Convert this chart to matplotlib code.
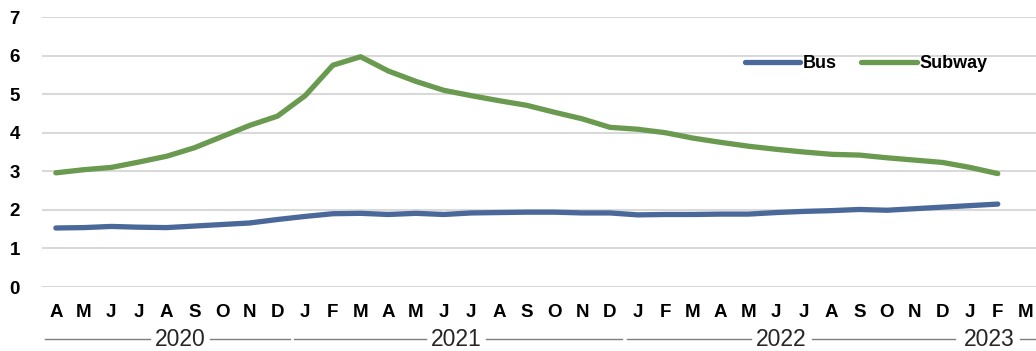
import numpy as np
import matplotlib.pyplot as plt
import matplotlib.transforms as mtransforms

plt.rcParams['font.family'] = ['Liberation Sans', 'DejaVu Sans']

# Monthly ratio, April 2020 - February 2023 (March 2023 slot left empty)
months = ['A', 'M', 'J', 'J', 'A', 'S', 'O', 'N', 'D',
          'J', 'F', 'M', 'A', 'M', 'J', 'J', 'A', 'S', 'O', 'N', 'D',
          'J', 'F', 'M', 'A', 'M', 'J', 'J', 'A', 'S', 'O', 'N', 'D',
          'J', 'F', 'M']
years = ['2020', '2021', '2022', '2023']
months_per_year = [9, 12, 12, 3]
year_label_pos = [4.48, 14.44, 26.2, 33.7]

bus = [1.53, 1.54, 1.57, 1.55, 1.54, 1.58, 1.62, 1.66, 1.75,
       1.83, 1.90, 1.91, 1.88, 1.91, 1.88, 1.92, 1.93, 1.94, 1.94, 1.92, 1.92,
       1.87, 1.88, 1.88, 1.89, 1.89, 1.93, 1.96, 1.98, 2.01, 1.99, 2.03, 2.07,
       2.11, 2.15]
subway = [2.96, 3.04, 3.10, 3.24, 3.39, 3.61, 3.90, 4.19, 4.43,
          4.96, 5.75, 5.97, 5.60, 5.33, 5.10, 4.96, 4.83, 4.71, 4.53, 4.36, 4.14,
          4.09, 4.00, 3.86, 3.75, 3.65, 3.57, 3.50, 3.44, 3.42, 3.35, 3.29, 3.23,
          3.10, 2.94]

blue = '#4a6899'
green = '#6a9a4f'

fig = plt.figure(figsize=(10.36, 3.51), dpi=100)
ax = fig.add_axes([42 / 1036, 64 / 351, 994 / 1036, 270 / 351])

x = np.arange(len(bus))
ax.plot(x, bus, color=blue, lw=3.8, solid_capstyle='round', label='Bus')
ax.plot(x, subway, color=green, lw=3.8, solid_capstyle='round', label='Subway')

ax.set_ylim(0, 7)
ax.set_xlim(-0.5, 35.38)
ax.set_yticks(range(8))
ax.set_xticks(range(len(months)))
ax.set_xticklabels(months)
ax.grid(axis='y', color='#d9d9d9', lw=1.5)
ax.set_axisbelow(True)
for s in ax.spines.values():
    s.set_visible(False)
ax.tick_params(length=0)
ax.tick_params(axis='y', pad=16)
ax.tick_params(axis='x', pad=12)
for lab in ax.get_xticklabels() + ax.get_yticklabels():
    lab.set_fontweight('bold')
    lab.set_fontsize(13.5)

# year row under the month labels, with rules either side of each year
trans = mtransforms.blended_transform_factory(ax.transData, ax.transAxes)
yrow = -0.193
year_texts = []
for yr, pos in zip(years, year_label_pos):
    t = ax.text(pos, yrow, yr, transform=trans, ha='center', va='center',
                fontsize=16.5, color='#262626')
    year_texts.append(t)

fig.canvas.draw()
inv = ax.transData.inverted()
edges = np.concatenate([[-0.5], -0.5 + np.cumsum(months_per_year)])
gap = 0.18
for i, t in enumerate(year_texts):
    bb = t.get_window_extent()
    left = inv.transform((bb.x0, 0))[0] - gap
    right = inv.transform((bb.x1, 0))[0] + gap
    lo, hi = edges[i] + 0.1, edges[i + 1] - 0.05
    for a, b in [(lo, left), (right, hi)]:
        if b - a > 0.1:
            ax.plot([a, b], [yrow, yrow], transform=trans, color='#7f7f7f',
                    lw=1.0, clip_on=False)

fig.legend(loc='center', bbox_to_anchor=(866 / 1036, 1 - 64 / 351),
           ncol=2, frameon=False, handlelength=3.1, handletextpad=0.15,
           columnspacing=1.3, prop={'weight': 'bold', 'size': 13})

fig.savefig('out.png', dpi=100)
